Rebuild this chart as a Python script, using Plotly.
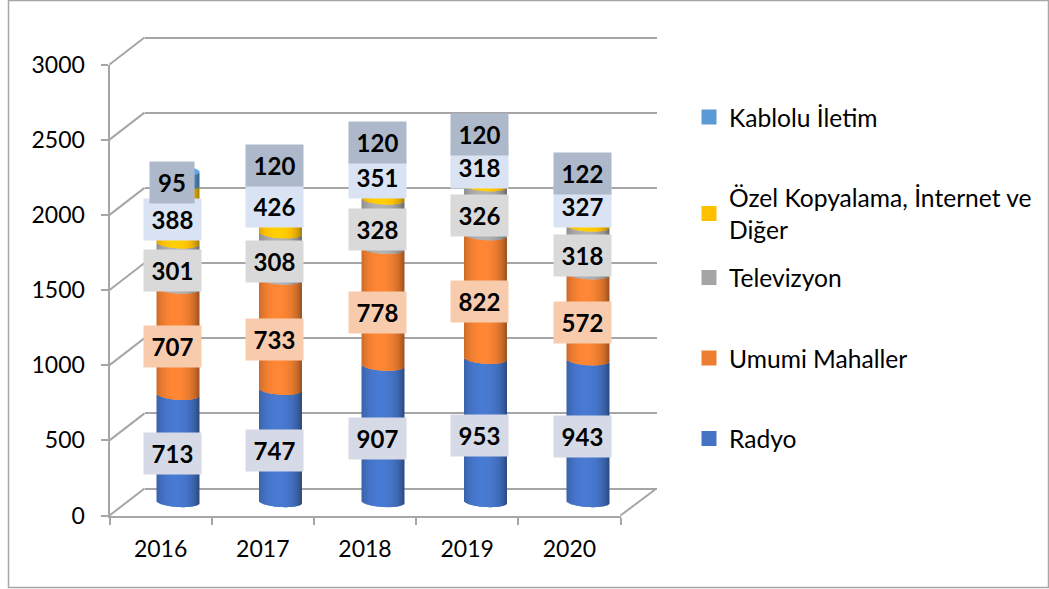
import plotly.graph_objects as go

# ---- data ----
years = ["2016", "2017", "2018", "2019", "2020"]
radyo = [713, 747, 907, 953, 943]
umumi = [707, 733, 778, 822, 572]
televizyon = [301, 308, 328, 326, 318]
ozel = [388, 426, 351, 318, 327]
kablolu = [95, 120, 120, 120, 122]
series_names = ["Radyo", "Umumi Mahaller", "Televizyon",
                "Özel Kopyalama, İnternet ve<br>Diğer", "Kablolu İletim"]
series_colors = ["#4472C4", "#ED7D31", "#A5A5A5", "#FFC000", "#5B9BD5"]
label_colors = ["#D5DAE6", "#F8CBAD", "#D9D9D9", "#DAE3F3", "#ADB9CA"]
y_ticks = [0, 500, 1000, 1500, 2000, 2500, 3000]

series_values = [radyo, umumi, televizyon, ozel, kablolu]

W, H = 1049, 589
FONT = "Lato"
LINE = "#A6A6A6"


def px(x):
    return x / W


def py(y):
    return 1 - y / H


def shade(hex_color, f):
    r, g, b = (int(hex_color[i:i + 2], 16) for i in (1, 3, 5))
    return "rgb(%d,%d,%d)" % tuple(min(255, int(c * f)) for c in (r, g, b))


# geometry of the fake 3D box (pixels)
FX0, FX1, FY0, FY3 = 109.5, 620.5, 515.5, 64.5       # front axes
DX, DY = 35, -27                                     # depth offset to back wall
BAR_C0, BAR_STEP, BAR_Y0 = 178, 102.5, 502           # bar axis
UNIT = (FY0 - FY3) / 3000
N_STRIPS = 42
HALF_W = 21 / BAR_STEP
ELL = 5 / UNIT
TILT = 1.2 / UNIT
PAD = 200    # axis room below zero / above 3000 so nothing is clipped
ts = [-1 + (2 * k + 1) / N_STRIPS for k in range(N_STRIPS)]
STRIP_W = 2.0 / BAR_STEP

fig = go.Figure()

# front axis carrier
fig.add_trace(go.Scatter(x=years, y=[None] * 5, mode="markers", showlegend=False,
                         hoverinfo="skip", xaxis="x", yaxis="y"))
# back wall carrier
fig.add_trace(go.Scatter(x=[None], y=[None], mode="markers", showlegend=False,
                         hoverinfo="skip", xaxis="x2", yaxis="y2"))

# cylinders: every series is a stack of thin shaded strips
cum = [0] * len(years)
for s, vals in enumerate(series_values):
    xs, bases, heights, colors = [], [], [], []
    for i, v in enumerate(vals):
        for t in ts:
            e = ELL * (1 - t * t) ** 0.5 + TILT * t
            xs.append(i + HALF_W * t)
            bases.append(cum[i] - e)
            heights.append(v)
            u = min(1.0, abs(t + 0.1) / 1.1)
            colors.append(shade(series_colors[s], 0.62 + 0.46 * (1 - u * u) ** 0.6))
    fig.add_trace(go.Bar(x=xs, y=heights, base=bases, width=STRIP_W,
                         marker=dict(color=colors, line_width=0), showlegend=False,
                         hoverinfo="skip", cliponaxis=False, xaxis="x3", yaxis="y3"))
    cum = [c + v for c, v in zip(cum, vals)]

# top cap of the uppermost series
xs, bases, heights, colors = [], [], [], []
for i, top in enumerate(cum):
    for t in ts:
        e = ELL * (1 - t * t) ** 0.5
        xs.append(i + HALF_W * t)
        bases.append(top - e - TILT * t)
        heights.append(2 * e)
        colors.append(shade(series_colors[4], 1.08))
fig.add_trace(go.Bar(x=xs, y=heights, base=bases, width=STRIP_W,
                     marker=dict(color=colors, line_width=0), showlegend=False,
                     hoverinfo="skip", cliponaxis=False, xaxis="x3", yaxis="y3"))

# data labels
annotations = []
cum = [0] * len(years)
for s, vals in enumerate(series_values):
    for i, v in enumerate(vals):
        txt = str(v)
        annotations.append(dict(
            x=i, y=cum[i] + v / 2, xref="x3", yref="y3", text="<b>%s</b>" % txt,
            showarrow=False, xshift=-6, yshift=-5, width=13 * len(txt) + 18, height=41,
            bgcolor=label_colors[s], borderpad=0, align="center", valign="middle",
            font=dict(family=FONT, size=24, color="#000000")))
    cum = [c + v for c, v in zip(cum, vals)]

# legends: one per entry so that their spacing can follow the reference
legend_y = [116.5, 197, 277, 357.5, 438]
legend_cfg = {}
for idx, s in enumerate([4, 3, 2, 1, 0]):
    name = "legend" if idx == 0 else "legend%d" % (idx + 1)
    fig.add_trace(go.Scatter(x=[None], y=[None], mode="markers", name=series_names[s],
                             marker=dict(symbol="square", size=15, color=series_colors[s]),
                             legend=name, xaxis="x2", yaxis="y2", hoverinfo="skip"))
    legend_cfg[name] = dict(x=px(689), y=py(legend_y[idx] - 22), xanchor="left", yanchor="top",
                            bgcolor="rgba(0,0,0,0)", borderwidth=0, itemclick=False,
                            itemdoubleclick=False,
                            font=dict(family=FONT, size=24.6, color="#000000"))

# depth lines and frame
shapes = []
for v in y_ticks:
    yf = FY0 - v * UNIT
    shapes.append(dict(type="line", xref="paper", yref="paper", layer="below",
                       x0=px(FX0), y0=py(yf), x1=px(FX0 + DX), y1=py(yf + DY),
                       line=dict(color=LINE, width=2)))
shapes.append(dict(type="line", xref="paper", yref="paper", layer="below",
                   x0=px(FX1), y0=py(FY0), x1=px(FX1 + DX + 1), y1=py(FY0 + DY),
                   line=dict(color=LINE, width=2)))
shapes.append(dict(type="rect", xref="paper", yref="paper", layer="below",
                   x0=px(8.5), y0=py(587.5), x1=px(1048.5), y1=py(0.5),
                   line=dict(color=LINE, width=1.5)))

pad_px = PAD * UNIT
fig.update_layout(
    width=W, height=H, margin=dict(l=0, r=0, t=0, b=0, autoexpand=False),
    paper_bgcolor="#FFFFFF", plot_bgcolor="rgba(0,0,0,0)",
    barmode="overlay", font=dict(family=FONT, size=23, color="#000000"),
    annotations=annotations, shapes=shapes,
    xaxis=dict(domain=[px(FX0), px(FX1)], type="category", categoryorder="array",
               categoryarray=years, range=[-0.5, 4.5], tickson="boundaries",
               ticks="outside", ticklen=7, tickwidth=2, tickcolor=LINE, showgrid=False,
               showline=True, linecolor=LINE, linewidth=2, zeroline=False, anchor="y",
               ticklabelstandoff=12, tickfont=dict(family=FONT, size=23)),
    yaxis=dict(domain=[py(FY0), py(FY3)], range=[0, 3000], tickvals=y_ticks, ticks="outside",
               ticklen=7, tickwidth=2, tickcolor=LINE, showgrid=False, showline=True,
               linecolor=LINE, linewidth=2, zeroline=False, anchor="x",
               ticklabelstandoff=11, tickfont=dict(family=FONT, size=23)),
    xaxis2=dict(domain=[px(FX0 + DX), px(FX1 + DX + 1)], range=[0, 1], visible=False,
                anchor="y2"),
    yaxis2=dict(domain=[py(FY0 + DY + pad_px), py(FY3 + DY - pad_px)],
                range=[-PAD, 3000 + PAD], tickvals=y_ticks,
                showgrid=True, gridcolor=LINE, gridwidth=2, zeroline=False, showline=False,
                ticks="", showticklabels=False, anchor="x2"),
    xaxis3=dict(domain=[px(BAR_C0 - 0.5 * BAR_STEP), px(BAR_C0 + 4.5 * BAR_STEP)],
                range=[-0.5, 4.5], visible=False, anchor="y3"),
    yaxis3=dict(domain=[py(BAR_Y0 + pad_px), py(BAR_Y0 - 3000 * UNIT)], range=[-PAD, 3000],
                visible=False, anchor="x3"),
    showlegend=True,
    **legend_cfg,
)

fig.write_html("out.html", config={"displayModeBar": False},
               post_script="document.body.style.margin='0';document.body.style.overflow='hidden';")
